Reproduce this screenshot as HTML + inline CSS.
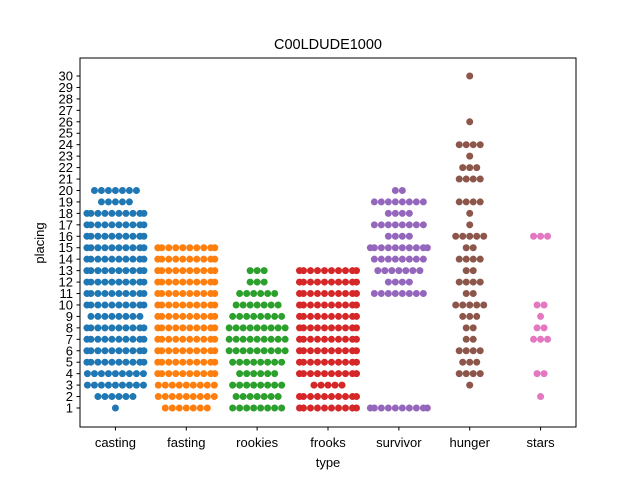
<!DOCTYPE html>
<html><head><meta charset="utf-8"><style>
body{margin:0;background:#fff;}
svg text{font-family:"Liberation Sans",sans-serif;}
</style></head><body>
<svg id="chart" width="640" height="480" xmlns="http://www.w3.org/2000/svg">
<rect width="640" height="480" fill="#fff"/>
<text x="328" y="49" font-size="14.5" text-anchor="middle">C00LDUDE1000</text>
<g id="marks"></g>
<g id="axes"></g>
<rect x="80" y="58" width="496" height="369" fill="none" stroke="#000" stroke-width="1"/>
<text x="328" y="467" font-size="13" text-anchor="middle">type</text>
<text transform="translate(44,243) rotate(-90)" font-size="13" text-anchor="middle">placing</text>
</svg>
<script>
const categories = ["casting","fasting","rookies","frooks","survivor","hunger","stars"];
const colors = ["#1f77b4","#ff7f0e","#2ca02c","#d62728","#9467bd","#8c564b","#e377c2"];
// counts per placing: [placing, count]
const castingCounts = [[20,7],[19,5],[18,10],[17,10],[16,10],[15,10],[14,10],[13,10],[12,10],[11,10],[10,10],[9,8],[8,10],[7,10],[6,10],[5,10],[4,9],[3,9],[2,6],[1,1]];
const fastingCounts = [[15,10],[14,10],[13,10],[12,10],[11,10],[10,10],[9,10],[8,10],[7,10],[6,10],[5,10],[4,10],[3,9],[2,9],[1,7]];
const rookiesCounts = [[13,3],[12,3],[11,6],[10,7],[9,8],[8,9],[7,9],[6,9],[5,8],[4,6],[3,8],[2,7],[1,8]];
const frooksCounts = [[13,10],[12,10],[11,10],[10,10],[9,10],[8,10],[7,10],[6,10],[5,10],[4,10],[3,5],[2,10],[1,10]];
const survivorCounts = [[20,2],[19,8],[18,4],[17,8],[16,4],[15,10],[14,8],[13,7],[12,4],[11,8],[1,10]];
const hungerCounts = [[30,1],[26,1],[24,4],[23,1],[22,3],[21,4],[19,4],[18,1],[17,1],[16,5],[15,2],[14,4],[13,2],[12,4],[11,2],[10,5],[9,3],[8,2],[7,2],[6,4],[5,3],[4,4],[3,1]];
const starsCounts = [[16,3],[10,2],[9,1],[8,2],[7,3],[4,2],[2,1]];
const yTicks = [1,2,3,4,5,6,7,8,9,10,11,12,13,14,15,16,17,18,19,20,21,22,23,24,25,26,27,28,29,30];

const allCounts = [castingCounts,fastingCounts,rookiesCounts,frooksCounts,survivorCounts,hungerCounts,starsCounts];
const NS="http://www.w3.org/2000/svg";
const L=80,R=576;
function xScale(i){return L+(R-L)*(i+0.5)/categories.length;}
function yScale(v){return 408-(v-1)*11.448;}
const marks=document.getElementById('marks'), axes=document.getElementById('axes');
allCounts.forEach((rows,ci)=>{
  const cx=xScale(ci);
  rows.forEach(([p,n])=>{
    for(let k=0;k<n;k++){
      let off=(k-(n-1)/2)*7;
      off=Math.max(-28.5,Math.min(28.5,off));
      const c=document.createElementNS(NS,'circle');
      c.setAttribute('cx',cx+off);c.setAttribute('cy',yScale(p));c.setAttribute('r',3.5);
      c.setAttribute('fill',colors[ci]);
      
      
      marks.appendChild(c);
    }
  });
});
categories.forEach((c,i)=>{
  const x=xScale(i);
  const t=document.createElementNS(NS,'line');
  t.setAttribute('x1',x);t.setAttribute('x2',x);t.setAttribute('y1',427);t.setAttribute('y2',430.5);t.setAttribute('stroke','#000');
  
  
  axes.appendChild(t);
  const tx=document.createElementNS(NS,'text');
  tx.setAttribute('x',x);tx.setAttribute('y',447);tx.setAttribute('font-size','13');tx.setAttribute('text-anchor','middle');
  tx.textContent=c;
  
  
  axes.appendChild(tx);
});
yTicks.forEach(v=>{
  const y=yScale(v);
  const t=document.createElementNS(NS,'line');
  t.setAttribute('x1',76.5);t.setAttribute('x2',80);t.setAttribute('y1',y);t.setAttribute('y2',y);t.setAttribute('stroke','#000');
  
  
  axes.appendChild(t);
  const tx=document.createElementNS(NS,'text');
  tx.setAttribute('x',73);tx.setAttribute('y',y+4.5);tx.setAttribute('font-size','13');tx.setAttribute('text-anchor','end');
  tx.textContent=v;
  
  
  axes.appendChild(tx);
});
</script>
</body></html>
